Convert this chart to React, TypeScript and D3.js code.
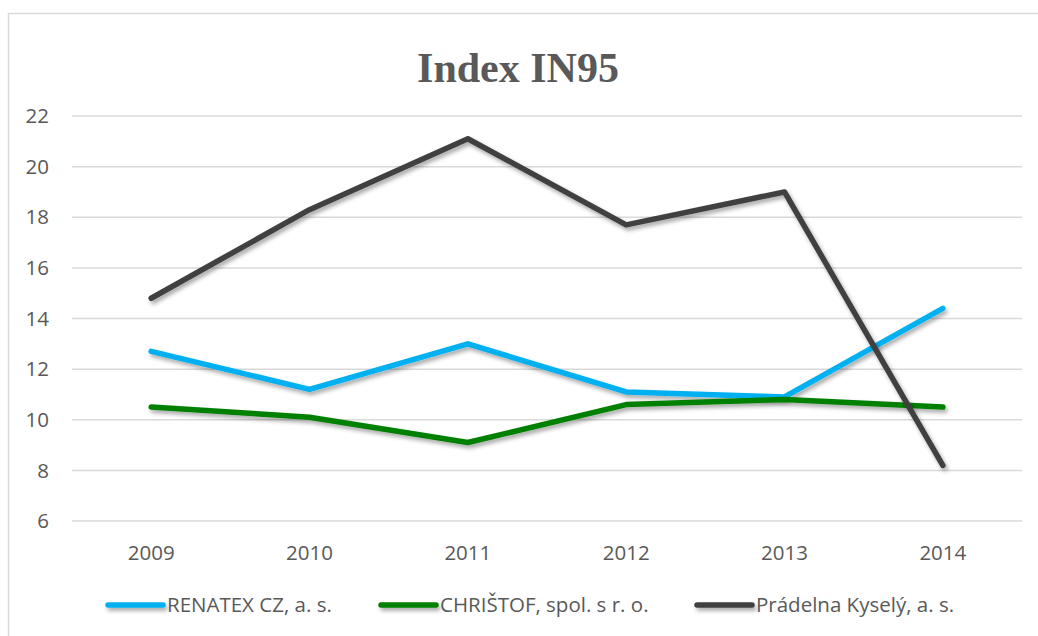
import React, { useEffect, useRef } from 'react';
import * as d3 from 'd3';

const years = ['2009', '2010', '2011', '2012', '2013', '2014'];
const renatex = [12.7, 11.2, 13.0, 11.1, 10.9, 14.4];
const christof = [10.5, 10.1, 9.1, 10.6, 10.8, 10.5];
const pradelna = [14.8, 18.3, 21.1, 17.7, 19.0, 8.2];
const yTicks = [6, 8, 10, 12, 14, 16, 18, 20, 22];
const seriesNames = ['RENATEX CZ, a. s.', 'CHRIŠTOF, spol. s r. o.', 'Prádelna Kyselý, a. s.'];
const seriesColors = ['#00B0F0', '#008000', '#404040'];

const W = 1038;
const H = 636;
const FONT = '"Open Sans", "Noto Sans", sans-serif';

export default function App() {
  const ref = useRef<SVGSVGElement>(null);

  useEffect(() => {
    const svg = d3.select(ref.current);
    svg.selectAll('*').remove();

    const x = d3.scaleBand<string>().domain(years).range([72, 1022]).padding(0);
    const y = d3.scaleLinear().domain([6, 22]).range([521, 116]);

    // soft drop shadow under the lines (userSpaceOnUse so flat legend lines still render)
    const defs = svg.append('defs');
    const f = defs.append('filter').attr('id', 'shadow')
      .attr('filterUnits', 'userSpaceOnUse')
      .attr('x', 0).attr('y', 0).attr('width', W).attr('height', H);
    f.append('feDropShadow').attr('dx', 2).attr('dy', 3).attr('stdDeviation', 2)
      .attr('flood-color', '#000').attr('flood-opacity', 0.35);

    // chart border
    svg.append('rect')
      .attr('x', 8.5).attr('y', 13.5).attr('width', 1040).attr('height', 640)
      .attr('fill', 'white').attr('stroke', '#d9d9d9').attr('stroke-width', 1.5);

    // title
    svg.append('text')
      .attr('x', 518).attr('y', 82)
      .attr('text-anchor', 'middle')
      .attr('font-family', '"Liberation Serif", "Times New Roman", serif')
      .attr('font-weight', 'bold')
      .attr('font-size', 42)
      .attr('fill', '#595959')
      .text('Index IN95');

    // gridlines + y labels
    const g = svg.append('g');
    yTicks.forEach(t => {
      g.append('line')
        .attr('x1', 72).attr('x2', 1022)
        .attr('y1', y(t)).attr('y2', y(t))
        .attr('stroke', '#d9d9d9').attr('stroke-width', 1.5);
      g.append('text')
        .attr('x', 49).attr('y', y(t)).attr('dy', '0.35em')
        .attr('text-anchor', 'end')
        .attr('font-family', FONT).attr('font-size', 20.5)
        .attr('fill', '#595959')
        .text(t);
    });

    // x labels
    years.forEach(yr => {
      g.append('text')
        .attr('x', (x(yr) as number) + x.bandwidth() / 2).attr('y', 560)
        .attr('text-anchor', 'middle')
        .attr('font-family', FONT).attr('font-size', 20.5)
        .attr('fill', '#595959')
        .text(yr);
    });

    const line = d3.line<number>()
      .x((d, i) => (x(years[i]) as number) + x.bandwidth() / 2)
      .y(d => y(d));

    [renatex, christof, pradelna].forEach((s, i) => {
      svg.append('path')
        .attr('d', line(s))
        .attr('fill', 'none')
        .attr('stroke', seriesColors[i])
        .attr('stroke-width', 5.5)
        .attr('stroke-linecap', 'round')
        .attr('stroke-linejoin', 'round')
        .attr('filter', 'url(#shadow)');
    });

    // legend
    const legX = [108, 381, 697];
    seriesNames.forEach((name, i) => {
      const lg = svg.append('g');
      lg.append('line')
        .attr('x1', legX[i]).attr('x2', legX[i] + 55)
        .attr('y1', 605).attr('y2', 605)
        .attr('stroke', seriesColors[i]).attr('stroke-width', 5.5)
        .attr('stroke-linecap', 'round')
        .attr('filter', 'url(#shadow)');
      lg.append('text')
        .attr('x', legX[i] + 59).attr('y', 605).attr('dy', '0.35em')
        .attr('font-family', FONT).attr('font-size', 20.5)
        .attr('fill', '#595959')
        .text(name);
    });
  }, []);

  return (
    <svg ref={ref} width={W} height={H}
      style={{ position: 'absolute', left: 0, top: 0, display: 'block', background: 'white' }} />
  );
}
